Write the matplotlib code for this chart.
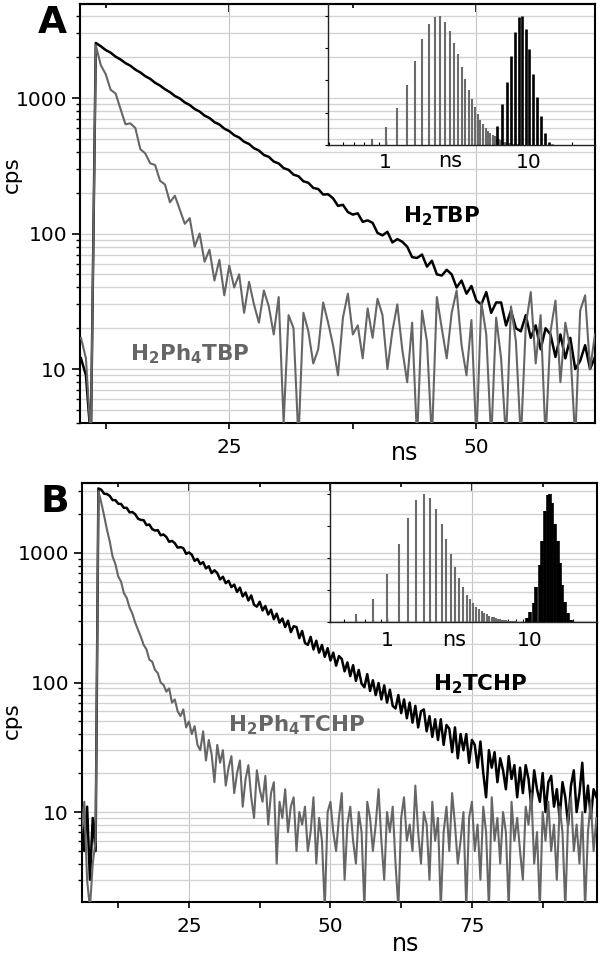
import numpy as np
import matplotlib
matplotlib.use('Agg')
from matplotlib import pyplot as plt
from matplotlib.ticker import LogLocator, NullFormatter, FuncFormatter

GRAY = '#666666'
STEP = 0.5  # ns per channel

# panel A decays, channels start at 10 ns
a_t0 = 10.0
a_black = [12, 9, 3, 2550, 2410, 2260, 2160, 2020, 1925, 1810,
           1730, 1620, 1545, 1450, 1385, 1295, 1235, 1160, 1105, 1035,
           992, 928, 888, 830, 795, 742, 712, 664, 638, 594,
           570, 532, 511, 476, 458, 426, 410, 380, 368, 340,
           329, 304, 295, 272, 265, 243, 237, 217, 213, 194,
           195, 182, 160, 163, 144, 138, 141, 122, 125, 120,
           101, 97, 103, 86, 91, 87, 80, 67, 66, 70,
           57, 63, 50, 49, 54, 50, 40, 45, 36, 41,
           32, 30, 37, 26, 31, 31, 21, 27, 20, 19,
           25, 17, 21, 14, 20, 18, 12.3, 18, 12, 17,
           10, 11.5, 15, 10, 12.3]
a_gray = [17, 12, 3, 2450, 1750, 1500, 1150, 1080, 830, 640,
          650, 600, 420, 390, 330, 320, 245, 230, 170, 190,
          150, 118, 130, 80, 100, 62, 76, 45, 64, 35,
          58, 40, 50, 26, 44, 30, 22, 38, 29, 18,
          34, 4, 25, 20,
          3, 26, 19, 11, 14, 31, 22, 15, 9, 24,
          36, 18, 21, 12, 28, 17, 33, 25, 10, 19,
          30, 14, 8, 22, 3, 27, 16, 3, 34, 20,
          12, 26, 38, 15, 9, 23, 3, 31, 18, 3,
          24, 12, 3, 29, 16, 3, 21, 37, 11, 25,
          3, 19, 32, 8, 22, 14, 3, 27, 35, 10,
          18]

# panel B decays, channels start at 6 ns
b_t0 = 6.0
b_black = [10, 5, 11, 3, 9, 5,
           3150, 3080, 2870, 2850, 2760, 2560, 2560, 2400, 2390, 2230,
           2230, 2060, 2070, 1990, 1840, 1800, 1790, 1640, 1660, 1530,
           1490, 1500, 1370, 1390, 1330, 1220, 1240, 1190, 1100, 1110,
           1090, 985, 1010, 970, 870, 900, 820, 850, 760, 790,
           700, 735, 700, 625, 655, 585, 610, 545, 570, 500,
           540, 462, 495, 430, 470, 398, 385, 420, 360, 390,
           335, 365, 308, 340, 290, 312, 268, 300, 245, 272,
           268, 220, 250, 202, 195, 225, 180, 210, 170, 195,
           158, 184, 148, 170, 135, 160, 152, 122, 143, 112,
           136, 103, 125, 98, 92, 116, 86, 104, 80, 99,
           74, 95, 70, 88, 66, 63, 80, 58, 74, 53,
           70, 49, 66, 45, 60, 62, 42, 55, 38, 52,
           36, 52, 33, 47, 44, 29, 45, 26, 40, 30,
           40, 24, 36, 33, 22, 35, 20, 13, 30, 22,
           29, 17, 26, 21, 15, 27, 18, 23, 13, 22,
           14, 23, 18, 11, 21, 15, 12, 20, 10, 17,
           19, 11, 15, 9, 17, 13, 8, 16, 21, 10,
           14, 24, 10, 16, 9, 15, 13]
b_gray = [7, 12, 3, 1.8, 4, 6,
          3000, 2450, 1950, 1520, 1230, 940, 820, 660, 600, 490,
          450, 380, 340, 290, 255, 225, 195, 180, 150, 145,
          125, 118, 100, 96, 85, 90, 70, 74, 60, 55,
          62, 45, 50, 40, 46, 33, 30, 42, 25, 36,
          28, 17, 33, 24, 30, 16, 22, 27, 14, 20,
          25, 11, 18, 23, 13, 9, 21, 15, 12, 19,
          8, 14, 17, 4, 12, 9, 15, 7, 11, 13,
          5, 10,
          8, 11, 5, 7, 13, 4, 9, 6, 1.8, 10,
          12, 7, 5, 9, 14, 3, 8, 11, 6, 4,
          10, 7, 1.8, 12, 9, 5, 8, 15, 6, 3,
          10, 7, 11, 4, 1.8, 9, 13, 6, 8, 5,
          16, 7, 4, 10, 8, 3, 12, 6, 9, 1.8,
          7, 11, 5, 14, 8, 4, 6, 10, 1.8, 9,
          12, 5, 8, 3, 11, 7, 1.8, 13, 6, 9,
          4, 10, 7, 1.8, 12, 6, 9, 5, 3, 11,
          8, 14, 4, 7, 1.8, 10, 6, 12, 5, 8,
          3, 11, 7, 1.8, 9, 13, 5, 8, 4, 10,
          1.8, 7, 12, 5, 9]

# inset lifetime distributions (ns, normalised amplitude)
ia_gray_ns = np.arange(0.8, 8.41, 0.2)
ia_gray_h = [0.05, 0.142, 0.284, 0.461, 0.652, 0.817, 0.933, 0.992, 1.0, 0.954,
             0.881, 0.791, 0.701, 0.606, 0.51, 0.425, 0.358, 0.296, 0.237, 0.193,
             0.16, 0.129, 0.108, 0.095, 0.08, 0.068, 0.054, 0.045, 0.035, 0.027,
             0.02, 0.017, 0.014, 0.012, 0.01, 0.008, 0.006, 0.005, 0.004]
ia_black_ns = [6.0, 6.5, 7.0, 7.5, 8.0, 8.5, 9.0, 9.6, 10.1, 10.8, 11.5, 12.2, 13.0, 13.8, 14.5]
ia_black_h = [0.15, 0.317, 0.49, 0.69, 0.876, 0.992, 1.0, 0.90, 0.74, 0.55, 0.369, 0.224, 0.09, 0.026, 0.008]

ib_gray_ns = np.arange(0.6, 9.01, 0.2)
ib_gray_h = [0.065, 0.184, 0.377, 0.608, 0.816, 0.953, 1.0, 0.966, 0.883, 0.766,
             0.647, 0.532, 0.434, 0.348, 0.278, 0.213, 0.182, 0.148, 0.122, 0.104,
             0.088, 0.074, 0.063, 0.053, 0.045, 0.038, 0.032, 0.027, 0.023, 0.02,
             0.017, 0.015, 0.013, 0.011, 0.01, 0.009, 0.008, 0.007, 0.006, 0.005,
             0.005, 0.004, 0.004]
ib_black_ns = [9.48, 10.0, 10.6, 11.1, 11.8, 12.2, 12.8, 13.4, 13.8, 14.3,
               14.9, 15.6, 16.2, 16.9, 17.7, 18.5, 19.3, 20.1]
ib_black_h = [0.03, 0.083, 0.148, 0.278, 0.447, 0.63, 0.865, 0.99, 1.0, 0.93,
              0.77, 0.63, 0.46, 0.29, 0.16, 0.07, 0.018, 0.005]

W, H = 600.0, 957.0
fig = plt.figure(figsize=(W / 100, H / 100), dpi=100)


def px_rect(x0, y0, x1, y1):
    return [x0 / W, 1 - y1 / H, (x1 - x0) / W, (y1 - y0) / H]


def draw_main(rect, t0, black, gray, xlim, ylim, xmaj, xmin):
    ax = fig.add_axes(rect)
    tb = t0 + STEP * np.arange(len(black))
    tg = t0 + STEP * np.arange(len(gray))
    ax.plot(tb, black, color='k', lw=1.8, zorder=3)
    ax.plot(tg, gray, color=GRAY, lw=1.5, zorder=4)
    ax.set_yscale('log')
    ax.set_xlim(xlim)
    ax.set_ylim(ylim)
    ax.set_xticks(xmaj)
    ax.set_xticks(xmin, minor=True)
    ax.yaxis.set_major_locator(LogLocator(base=10))
    ax.yaxis.set_minor_locator(LogLocator(base=10, subs=np.arange(2, 10)))
    ax.yaxis.set_major_formatter(FuncFormatter(lambda v, p: '%d' % v))
    ax.yaxis.set_minor_formatter(NullFormatter())
    ax.grid(True, which='both', axis='y', color='#d3d3d3', lw=1.0, zorder=0)
    ax.grid(True, which='major', axis='x', color='#c4c4c4', lw=0.8, zorder=0)
    ax.tick_params(axis='y', which='major', direction='out', length=5.8, width=1.2,
                   labelsize=14.5, pad=3.6, right=False)
    ax.tick_params(axis='y', which='minor', direction='out', length=3.2, width=1.0, right=False)
    ax.tick_params(axis='x', which='both', direction='out', length=4.2, width=1.2,
                   labelsize=14.5, pad=6.8, top=False)
    for s in ax.spines.values():
        s.set_linewidth(1.5)
    # ticks on the top edge point inwards
    top = ax.secondary_xaxis('top')
    top.set_xticks(xmaj)
    top.set_xticks(xmin, minor=True)
    top.tick_params(axis='x', which='major', direction='in', length=5.5, width=1.2, labeltop=False)
    top.tick_params(axis='x', which='minor', direction='in', length=3.2, width=1.2, labeltop=False)
    top.spines['top'].set_linewidth(1.5)
    return ax


def draw_inset(rect, xlim, ytop, g_ns, g_h, k_ns, k_h, k_lw, ns_x, ns_off):
    ai = fig.add_axes(rect)
    ai.set_facecolor('none')
    ai.set_xscale('log')
    ai.vlines(g_ns, 0, g_h, color='#6b6b6b', lw=1.5)
    ai.vlines(k_ns, 0, k_h, color='k', lw=k_lw)
    ai.set_xlim(xlim)
    ai.set_ylim(0, ytop)
    ai.spines['top'].set_visible(False)
    ai.spines['right'].set_visible(False)
    for side in ('left', 'bottom'):
        ai.spines[side].set_linewidth(1.0)
        ai.spines[side].set_color('#222222')
    ai.set_xticks([1, 10])
    ai.set_xticklabels(['1', '10'])
    ai.xaxis.set_minor_locator(LogLocator(base=10, subs=np.arange(2, 10)))
    ai.xaxis.set_minor_formatter(NullFormatter())
    ai.tick_params(axis='x', which='major', direction='in', length=3, width=1,
                   labelsize=14.5, pad=6)
    ai.tick_params(axis='x', which='minor', direction='in', length=2.2, width=0.8)
    ai.set_yticks([0, 0.25, 0.5, 0.75, 1.0])
    ai.set_yticklabels([])
    ai.tick_params(axis='y', direction='out', length=2.5, width=0.8)
    ai.annotate('ns', xy=(ns_x, 0), xycoords=('data', 'axes fraction'),
                xytext=(0, -ns_off), textcoords='offset points',
                ha='center', va='baseline', fontsize=15)
    return ai


# ---- panel A
ax_a = draw_main(px_rect(80, 4, 595, 423), a_t0, a_black, a_gray,
                 (9.9, 62.0), (4, 4940), [25, 50], [12.5, 37.5])
ax_a.set_ylabel('cps', fontsize=15.5)
ax_a.yaxis.set_label_coords(-0.113, 0.592)
ax_a.text(0.631, -0.088, 'ns', transform=ax_a.transAxes, ha='center', va='baseline', fontsize=17)
ax_a.text(42.6, 120, r'$\mathbf{H_2TBP}$', fontsize=15.5, color='k', ha='left', va='baseline')
ax_a.text(15.0, 11.6, r'$\mathbf{H_2Ph_4TBP}$', fontsize=15.5, color=GRAY, ha='left', va='baseline')
draw_inset(px_rect(328, 4, 595, 145), (0.395, 29.1), 1.09,
           ia_gray_ns, ia_gray_h, ia_black_ns, ia_black_h, 1.9, 2.82, 16)

# ---- panel B
ax_b = draw_main(px_rect(82, 483, 597, 902), b_t0, b_black, b_gray,
                 (6.1, 97.1), (2.02, 3470), [25, 50, 75], [12.5, 37.5, 62.5, 87.5])
ax_b.set_ylabel('cps', fontsize=15.5)
ax_b.yaxis.set_label_coords(-0.117, 0.434)
ax_b.text(0.628, -0.116, 'ns', transform=ax_b.transAxes, ha='center', va='baseline', fontsize=17)
ax_b.text(68.1, 86.5, r'$\mathbf{H_2TCHP}$', fontsize=15.5, color='k', ha='left', va='baseline')
ax_b.text(31.9, 41.7, r'$\mathbf{H_2Ph_4TCHP}$', fontsize=15.5, color=GRAY, ha='left', va='baseline')
draw_inset(px_rect(330, 483, 597, 622.3), (0.397, 29.5), 1.086,
           ib_gray_ns, ib_gray_h, ib_black_ns, ib_black_h, 2.6, 2.93, 17)

fig.text(38 / W, 1 - 33 / H, 'A', fontsize=27, fontweight='bold', va='baseline')
fig.text(40 / W, 1 - 512 / H, 'B', fontsize=27, fontweight='bold', va='baseline')

fig.savefig('out.png', dpi=100)
